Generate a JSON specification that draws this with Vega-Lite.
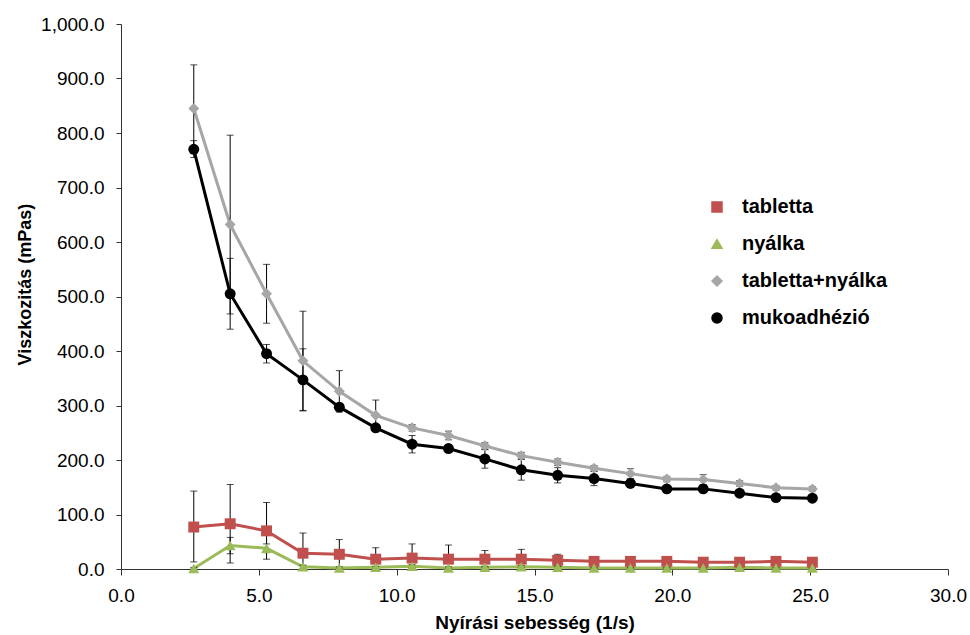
{
  "$schema": "https://vega.github.io/schema/vega-lite/v6.json",
  "width": 827,
  "height": 545,
  "autosize": "none",
  "padding": {"left": 121, "top": 24, "right": 22, "bottom": 66},
  "background": "white",
  "config": {
    "view": {"stroke": null},
    "font": "Liberation Sans",
    "axis": {"grid": false, "domainColor": "#333333", "tickColor": "#333333", "labelFont": "Liberation Sans", "labelFontSize": 19, "labelColor": "#000000", "titleFont": "Liberation Sans", "titleFontSize": 18, "titleFontWeight": "bold", "titleColor": "#000000", "labelFlush": false, "labelOverlap": false},
    "legend": {"title": null, "orient": "none", "legendX": 586, "legendY": 173, "padding": 0, "labelFontSize": 20, "labelFontWeight": "bold", "labelFont": "Liberation Sans", "labelColor": "#000000", "rowPadding": 17, "symbolSize": 100, "labelOffset": 15}
  },
  "data": {
    "values": [
      {"series": "tabletta", "x": 2.64, "y": 77, "lo": 13, "hi": 143},
      {"series": "tabletta", "x": 3.96, "y": 83, "lo": 11, "hi": 155},
      {"series": "tabletta", "x": 5.28, "y": 70, "lo": 18, "hi": 122},
      {"series": "tabletta", "x": 6.6, "y": 29, "lo": 0, "hi": 66},
      {"series": "tabletta", "x": 7.92, "y": 27, "lo": 0, "hi": 54},
      {"series": "tabletta", "x": 9.24, "y": 18, "lo": 0, "hi": 39},
      {"series": "tabletta", "x": 10.56, "y": 20, "lo": 0, "hi": 46},
      {"series": "tabletta", "x": 11.88, "y": 18, "lo": 0, "hi": 44},
      {"series": "tabletta", "x": 13.2, "y": 18, "lo": 3, "hi": 34},
      {"series": "tabletta", "x": 14.52, "y": 18, "lo": 2, "hi": 36},
      {"series": "tabletta", "x": 15.84, "y": 16, "lo": 6, "hi": 27},
      {"series": "tabletta", "x": 17.16, "y": 14, "lo": 8, "hi": 21},
      {"series": "tabletta", "x": 18.48, "y": 14, "lo": 9, "hi": 20},
      {"series": "tabletta", "x": 19.8, "y": 14, "lo": 10, "hi": 18},
      {"series": "tabletta", "x": 21.12, "y": 12.5, "lo": 10, "hi": 15},
      {"series": "tabletta", "x": 22.44, "y": 12.5, "lo": 10, "hi": 15},
      {"series": "tabletta", "x": 23.76, "y": 14, "lo": 11, "hi": 17},
      {"series": "tabletta", "x": 25.08, "y": 12.5, "lo": 11, "hi": 14},
      {"series": "nyálka", "x": 2.64, "y": 1, "lo": 0, "hi": 3},
      {"series": "nyálka", "x": 3.96, "y": 43, "lo": 28, "hi": 58},
      {"series": "nyálka", "x": 5.28, "y": 38, "lo": 30, "hi": 46},
      {"series": "nyálka", "x": 6.6, "y": 4, "lo": 1, "hi": 7},
      {"series": "nyálka", "x": 7.92, "y": 2, "lo": 0, "hi": 4},
      {"series": "nyálka", "x": 9.24, "y": 3, "lo": 1, "hi": 5},
      {"series": "nyálka", "x": 10.56, "y": 5, "lo": 2, "hi": 8},
      {"series": "nyálka", "x": 11.88, "y": 2, "lo": 0, "hi": 4},
      {"series": "nyálka", "x": 13.2, "y": 3, "lo": 1, "hi": 5},
      {"series": "nyálka", "x": 14.52, "y": 4, "lo": 2, "hi": 6},
      {"series": "nyálka", "x": 15.84, "y": 3, "lo": 1, "hi": 5},
      {"series": "nyálka", "x": 17.16, "y": 2, "lo": 1, "hi": 3},
      {"series": "nyálka", "x": 18.48, "y": 2, "lo": 1, "hi": 3},
      {"series": "nyálka", "x": 19.8, "y": 2, "lo": 1, "hi": 3},
      {"series": "nyálka", "x": 21.12, "y": 2, "lo": 1, "hi": 3},
      {"series": "nyálka", "x": 22.44, "y": 3, "lo": 2, "hi": 4},
      {"series": "nyálka", "x": 23.76, "y": 2, "lo": 1, "hi": 3},
      {"series": "nyálka", "x": 25.08, "y": 2, "lo": 1, "hi": 3},
      {"series": "tabletta+nyálka", "x": 2.64, "y": 845, "lo": 765, "hi": 925},
      {"series": "tabletta+nyálka", "x": 3.96, "y": 632, "lo": 468, "hi": 796},
      {"series": "tabletta+nyálka", "x": 5.28, "y": 505, "lo": 451, "hi": 559},
      {"series": "tabletta+nyálka", "x": 6.6, "y": 382, "lo": 291, "hi": 473},
      {"series": "tabletta+nyálka", "x": 7.92, "y": 326, "lo": 288, "hi": 364},
      {"series": "tabletta+nyálka", "x": 9.24, "y": 282, "lo": 254, "hi": 310},
      {"series": "tabletta+nyálka", "x": 10.56, "y": 259, "lo": 253, "hi": 265},
      {"series": "tabletta+nyálka", "x": 11.88, "y": 245, "lo": 237, "hi": 253},
      {"series": "tabletta+nyálka", "x": 13.2, "y": 226, "lo": 220, "hi": 232},
      {"series": "tabletta+nyálka", "x": 14.52, "y": 208, "lo": 202, "hi": 214},
      {"series": "tabletta+nyálka", "x": 15.84, "y": 196, "lo": 190, "hi": 202},
      {"series": "tabletta+nyálka", "x": 17.16, "y": 185, "lo": 180, "hi": 190},
      {"series": "tabletta+nyálka", "x": 18.48, "y": 175, "lo": 166, "hi": 184},
      {"series": "tabletta+nyálka", "x": 19.8, "y": 165, "lo": 160, "hi": 170},
      {"series": "tabletta+nyálka", "x": 21.12, "y": 164, "lo": 155, "hi": 173},
      {"series": "tabletta+nyálka", "x": 22.44, "y": 157, "lo": 152, "hi": 162},
      {"series": "tabletta+nyálka", "x": 23.76, "y": 149, "lo": 145, "hi": 153},
      {"series": "tabletta+nyálka", "x": 25.08, "y": 147, "lo": 143, "hi": 151},
      {"series": "mukoadhézió", "x": 2.64, "y": 770, "lo": 755, "hi": 786},
      {"series": "mukoadhézió", "x": 3.96, "y": 505, "lo": 440, "hi": 570},
      {"series": "mukoadhézió", "x": 5.28, "y": 395, "lo": 378, "hi": 412},
      {"series": "mukoadhézió", "x": 6.6, "y": 347, "lo": 290, "hi": 404},
      {"series": "mukoadhézió", "x": 7.92, "y": 297, "lo": 292, "hi": 302},
      {"series": "mukoadhézió", "x": 9.24, "y": 259, "lo": 255, "hi": 263},
      {"series": "mukoadhézió", "x": 10.56, "y": 229, "lo": 213, "hi": 245},
      {"series": "mukoadhézió", "x": 11.88, "y": 221, "lo": 214, "hi": 228},
      {"series": "mukoadhézió", "x": 13.2, "y": 202, "lo": 185, "hi": 219},
      {"series": "mukoadhézió", "x": 14.52, "y": 182, "lo": 163, "hi": 201},
      {"series": "mukoadhézió", "x": 15.84, "y": 172, "lo": 158, "hi": 186},
      {"series": "mukoadhézió", "x": 17.16, "y": 166, "lo": 153, "hi": 179},
      {"series": "mukoadhézió", "x": 18.48, "y": 157, "lo": 152, "hi": 162},
      {"series": "mukoadhézió", "x": 19.8, "y": 147, "lo": 143, "hi": 151},
      {"series": "mukoadhézió", "x": 21.12, "y": 147, "lo": 143, "hi": 151},
      {"series": "mukoadhézió", "x": 22.44, "y": 139, "lo": 135, "hi": 143},
      {"series": "mukoadhézió", "x": 23.76, "y": 131, "lo": 127, "hi": 135},
      {"series": "mukoadhézió", "x": 25.08, "y": 130, "lo": 126, "hi": 134}
    ]
  },
  "encoding": {
    "x": {"field": "x", "type": "quantitative", "scale": {"domain": [0, 30]}, "axis": {"values": [0, 5, 10, 15, 20, 25, 30], "format": ".1f", "title": "Nyírási sebesség (1/s)", "titleFontSize": 19, "titlePadding": 8, "labelPadding": 11, "tickSize": 6}}
  },
  "layer": [
    {
      "mark": {"type": "line", "strokeWidth": 3},
      "encoding": {
        "y": {"field": "y", "type": "quantitative", "scale": {"domain": [0, 1000]}, "axis": {"values": [0, 100, 200, 300, 400, 500, 600, 700, 800, 900, 1000], "format": ",.1f", "title": "Viszkozitás (mPas)", "titlePadding": 6, "titleY": 260, "labelPadding": 12, "tickSize": 5}},
        "color": {"field": "series", "type": "nominal", "scale": {"domain": ["tabletta", "nyálka", "tabletta+nyálka", "mukoadhézió"], "range": ["#C0504D", "#9BBB59", "#A6A6A6", "#000000"]}},
        "detail": {"field": "series"}
      }
    },
    {
      "mark": {"type": "errorbar", "ticks": {"size": 7, "color": "#000000", "strokeWidth": 1}, "color": "#000000", "thickness": 1, "clip": true},
      "encoding": {
        "y": {"field": "lo", "type": "quantitative", "title": "Viszkozitás (mPas)"},
        "y2": {"field": "hi"}
      }
    },
    {
      "mark": {"type": "point", "filled": true, "opacity": 1, "size": 120},
      "encoding": {
        "y": {"field": "y", "type": "quantitative", "title": "Viszkozitás (mPas)"},
        "color": {"field": "series", "type": "nominal", "scale": {"domain": ["tabletta", "nyálka", "tabletta+nyálka", "mukoadhézió"], "range": ["#C0504D", "#9BBB59", "#A6A6A6", "#000000"]}},
        "shape": {"field": "series", "type": "nominal", "scale": {"domain": ["tabletta", "nyálka", "tabletta+nyálka", "mukoadhézió"], "range": ["square", "triangle-up", "diamond", "circle"]},
          "legend": {"encode": {"symbols": {
              "shape": {"condition": [
                {"test": "datum.value === 'tabletta'", "value": "M-3.2,-0.3H3.2V0.3H-3.2Z M-0.9,-0.9H0.9V0.9H-0.9Z"},
                {"test": "datum.value === 'nyálka'", "value": "M-3.2,-0.3H3.2V0.3H-3.2Z M0,-0.9L1,0.8H-1Z"},
                {"test": "datum.value === 'tabletta+nyálka'", "value": "M-3.2,-0.3H3.2V0.3H-3.2Z M0,-0.9L0.9,0L0,0.9L-0.9,0Z"}
              ], "value": "M-3.2,-0.3H3.2V0.3H-3.2Z M-0.85,0A0.85,0.85,0,1,1,0.85,0A0.85,0.85,0,1,1,-0.85,0Z"}
            }}}}
      }
    }
  ]
}
